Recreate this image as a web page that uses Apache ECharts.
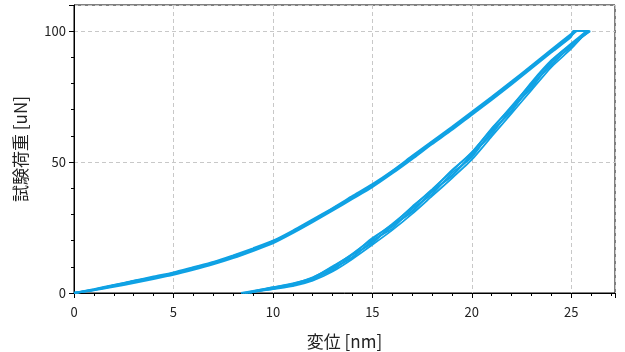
<!DOCTYPE html>
<html>
<head>
<meta charset="utf-8">
<script src="https://cdn.jsdelivr.net/npm/echarts@6/dist/echarts.min.js"></script>
<style>html,body{margin:0;padding:0;background:#fff;}#c{width:625px;height:352px;}</style>
</head>
<body>
<div id="c"></div>
<script>
// shared displacement samples [nm]
const loadX = [0,1,2,3,4,5,6,7,8,9,10,11,12,13,14,15,16,17,18,19,20,21,22,23,24,25];
const unloadX = [25,24,23,22,21,20,19,18,17,16,15,14,13,12,11,10,9];
// per-cycle load values [uN] (loading branch)
const loadA = [0,1.5,3.1,4.7,6.3,7.9,9.9,11.9,14.4,17.1,20.0,23.9,28.2,32.5,37.1,41.6,46.7,52.4,58.0,63.5,69.2,75.0,80.9,86.9,93.0,99.0];
const loadB = [0,1.0,2.3,3.8,5.3,6.9,8.8,10.9,13.3,16.0,18.9,22.8,27.0,31.4,35.9,40.4,45.6,51.1,56.8,62.2,68.0,73.7,79.6,85.7,91.8,97.8];
const loadC = [0,1.4,2.9,4.2,6.1,7.4,9.7,11.3,14.2,16.4,19.8,23.2,27.9,31.8,36.8,40.8,46.5,51.6,57.7,62.7,68.9,74.2,80.6,86.1,92.7,98.2];
const loadD = [0,1.2,2.6,4.6,5.7,7.7,9.2,11.7,13.7,16.9,19.3,23.6,27.4,32.3,36.3,41.3,46.0,52.1,57.2,63.2,68.4,74.7,80.1,86.6,92.2,98.6];
const loadE = [0,1.3,3.0,4.5,6.0,7.3,9.5,11.6,13.8,16.7,19.6,23.3,27.7,32.1,36.6,40.9,46.3,51.7,57.5,62.8,68.7,74.3,80.4,86.2,92.5,98.3];
const loadF = [0,1.1,2.7,4.3,5.8,7.6,9.3,11.4,14.0,16.5,19.4,23.5,27.5,31.9,36.4,41.1,46.1,51.9,57.3,63.0,68.5,74.5,80.2,86.4,92.3,98.5];
// per-cycle unloading branch
const unloadA = [95.0,88.6,80.1,71.4,62.6,53.8,46.6,39.6,32.7,26.4,20.6,15.0,9.9,6.0,3.5,2.1,0.7];
const unloadB = [93.3,86.3,77.5,68.6,59.8,50.9,43.8,37.0,30.2,24.0,18.4,13.0,8.2,4.7,2.6,1.5,0.3];
const unloadC = [94.7,87.0,79.6,69.4,61.9,51.8,45.9,37.7,32.2,24.6,20.1,13.5,9.5,4.9,3.3,1.6,0.6];
const unloadD = [93.8,88.2,78.2,70.7,60.6,53.0,44.6,39.0,30.9,25.9,19.0,14.6,8.6,5.7,2.8,2.0,0.4];
const unloadE = [94.4,87.3,79.0,69.8,61.4,52.5,45.0,38.5,31.3,25.4,19.7,13.8,9.2,5.2,3.1,1.7,0.5];
const unloadF = [95.3,88.9,80.5,71.0,62.9,53.5,46.9,39.3,33.0,26.0,21.0,14.8,10.2,5.8,3.7,2.2,0.8];
// peak hold start / end displacement, and final displacement at zero load
const peakStartX = [25.2,25.1,25.3,25.15,25.25,25.1];
const peakEndX = [25.9,25.8,25.95,25.85,25.9,25.75];
const finalX = [8.7,8.5,8.9,8.6,8.8,8.4];
const peakLoad = 100;

const loads = [loadA,loadB,loadC,loadD,loadE,loadF];
const unloads = [unloadA,unloadB,unloadC,unloadD,unloadE,unloadF];

const series = loads.map((ld, i) => {
  const d = [];
  loadX.forEach((x, k) => d.push([x, ld[k]]));
  d.push([peakStartX[i], peakLoad]);
  d.push([peakEndX[i], peakLoad]);
  unloadX.forEach((x, k) => d.push([x, unloads[i][k]]));
  d.push([finalX[i], 0]);
  return {
    type: 'line', data: d, showSymbol: false, smooth: 0.2,
    lineStyle: { color: '#10A2E4', width: 1.8 }, animation: false
  };
});

const chart = echarts.init(document.getElementById('c'));
const font = '"Noto Sans CJK JP", "Noto Sans", sans-serif';
chart.setOption({
  animation: false,
  grid: { left: 74, right: 10, top: 5, bottom: 59, outerBoundsMode: 'none', containLabel: false,
          show: true, borderColor: '#000', borderWidth: 1, backgroundColor: 'transparent' },
  xAxis: {
    type: 'value', min: 0, max: 27.2, interval: 5,
    name: '変位 [nm]', nameLocation: 'middle', nameGap: 40,
    nameTextStyle: { fontFamily: font, fontSize: 17, color: '#222' },
    axisLine: { show: true, lineStyle: { color: '#000', width: 1 } },
    axisTick: { show: true, length: 5, lineStyle: { color: '#000' } },
    minorTick: { show: true, splitNumber: 5, length: 3, lineStyle: { color: '#000' } },
    axisLabel: { fontFamily: font, fontSize: 13, color: '#222', margin: 13, showMaxLabel: false },
    splitLine: { show: true, lineStyle: { color: '#c8c8c8', type: [4, 3] } }
  },
  yAxis: {
    type: 'value', min: 0, max: 110, interval: 50,
    name: '試験荷重 [uN]', nameLocation: 'middle', nameGap: 45,
    nameTextStyle: { fontFamily: font, fontSize: 17, color: '#222' },
    axisLine: { show: true, lineStyle: { color: '#000', width: 1 } },
    axisTick: { show: true, length: 5, lineStyle: { color: '#000' } },
    minorTick: { show: true, splitNumber: 5, length: 3, lineStyle: { color: '#000' } },
    axisLabel: { fontFamily: font, fontSize: 13, color: '#222', margin: 8, showMaxLabel: false },
    splitLine: { show: true, lineStyle: { color: '#c8c8c8', type: [4, 3] } }
  },
  series: series
});
</script>
</body>
</html>
